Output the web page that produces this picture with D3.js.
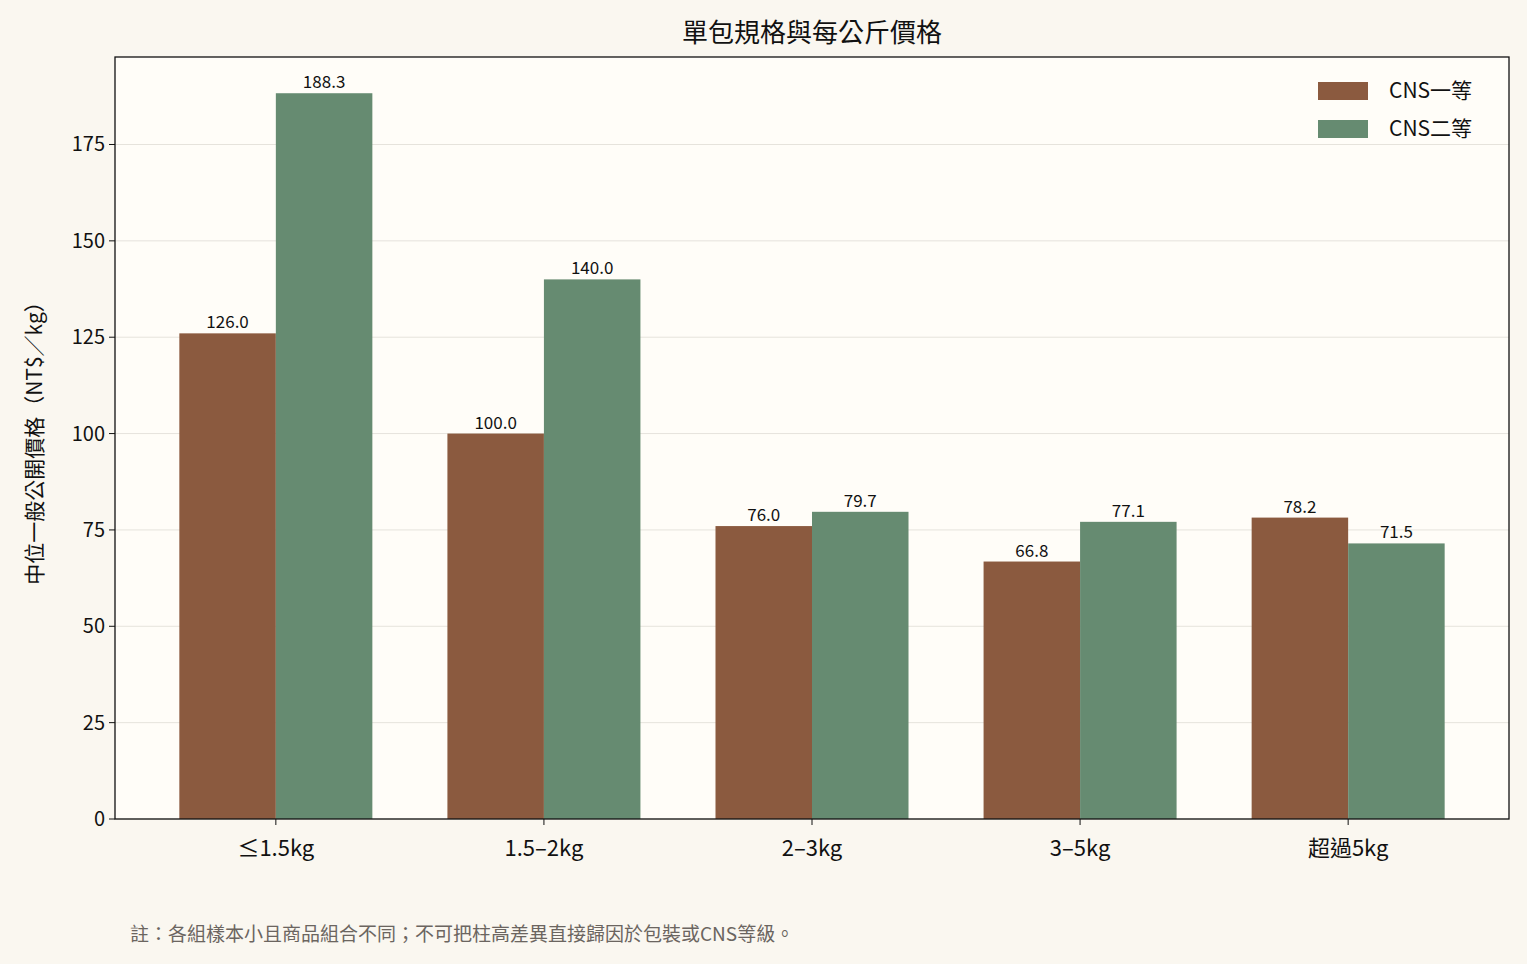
<!DOCTYPE html>
<html><head><meta charset="utf-8">
<script src="https://cdn.jsdelivr.net/npm/d3@7/dist/d3.min.js"></script>
<style>body{margin:0;background:#FAF7F0;}svg{display:block;font-family:"Noto Sans CJK TC","Noto Sans",sans-serif;}</style>
</head><body><svg id="c" width="1527" height="964"></svg>
<script>
const categories=["≤1.5kg","1.5–2kg","2–3kg","3–5kg","超過5kg"];
const grade1=[126.0,100.0,76.0,66.8,78.2];
const grade2=[188.3,140.0,79.7,77.1,71.5];
const seriesNames=["CNS一等","CNS二等"];
const colors=["#8B5A3F","#668B71"];
const yTicks=[0,25,50,75,100,125,150,175];
const svg=d3.select("#c");
const L=115,R=1509,T=57,B=819;
svg.append("rect").attr("x",L).attr("y",T).attr("width",R-L).attr("height",B-T).attr("fill","#FFFDF8");
const x=d3.scaleLinear().domain([-0.6,4.6]).range([L,R]);
const y=d3.scaleLinear().domain([0,197.7]).range([B,T]);
const bw=0.36;
svg.append("g").selectAll("line").data(yTicks).join("line").attr("x1",L).attr("x2",R)
 .attr("y1",d=>y(d)).attr("y2",d=>y(d)).attr("stroke","#e6e3dc").attr("stroke-width",1);
[grade1,grade2].forEach((s,k)=>{
 const g=svg.append("g");
 s.forEach((v,i)=>{
  const x0=x(i+(k===0?-bw:0));
  g.append("rect").attr("x",x0).attr("y",y(v)).attr("width",x(bw)-x(0)).attr("height",B-y(v)).attr("fill",colors[k]);
  g.append("text").attr("x",x0+(x(bw)-x(0))/2).attr("y",y(v)-5).attr("text-anchor","middle").attr("font-size",17).attr("fill","#111").text(v.toFixed(1));
 });
});
svg.append("rect").attr("x",L).attr("y",T).attr("width",R-L).attr("height",B-T).attr("fill","none").attr("stroke","#111").attr("stroke-width",1.3);
const ya=svg.append("g");
yTicks.forEach(t=>{
 ya.append("line").attr("x1",L-6).attr("x2",L).attr("y1",y(t)).attr("y2",y(t)).attr("stroke","#111");
 ya.append("text").attr("x",L-10).attr("y",y(t)).attr("dy","0.35em").attr("text-anchor","end").attr("font-size",20).attr("fill","#111").text(t);
});
categories.forEach((c,i)=>{
 svg.append("line").attr("x1",x(i)).attr("x2",x(i)).attr("y1",B).attr("y2",B+6).attr("stroke","#111");
 svg.append("text").attr("x",x(i)).attr("y",B+37).attr("text-anchor","middle").attr("font-size",22).attr("fill","#111").text(c);
});
svg.append("text").attr("transform",`translate(42,${(T+B)/2}) rotate(-90)`).attr("text-anchor","middle").attr("font-size",21).attr("fill","#111").text("中位一般公開價格（NT$／kg）");
svg.append("text").attr("x",(L+R)/2).attr("y",42).attr("text-anchor","middle").attr("font-size",26).attr("fill","#111").text("單包規格與每公斤價格");
seriesNames.forEach((n,k)=>{
 svg.append("rect").attr("x",1318).attr("y",82+k*38).attr("width",50).attr("height",18).attr("fill",colors[k]);
 svg.append("text").attr("x",1389).attr("y",91+k*38).attr("dy","0.35em").attr("font-size",21).attr("fill","#111").text(n);
});
svg.append("text").attr("x",130).attr("y",941).attr("font-size",19).attr("fill","#6b6560").text("註：各組樣本小且商品組合不同；不可把柱高差異直接歸因於包裝或CNS等級。");
</script></body></html>
